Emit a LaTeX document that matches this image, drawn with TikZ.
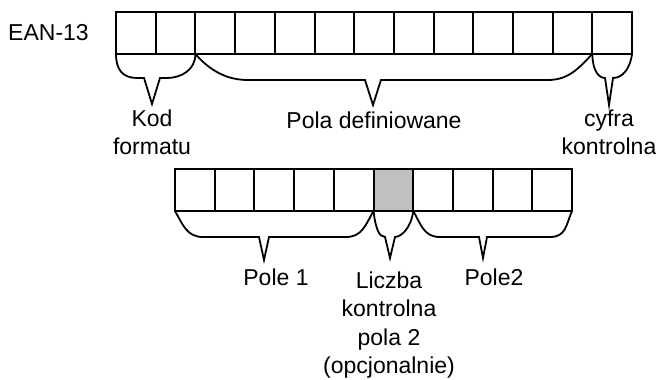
\documentclass[tikz,border=0pt]{standalone}
\usepackage{fontspec}
\setmainfont{Liberation Sans}
\begin{document}
\begin{tikzpicture}[x=1pt,y=-1pt,
  cell/.style={draw,line width=2pt,minimum width=39.7pt,minimum height=42pt,inner sep=0pt,outer sep=0pt,anchor=north west},
  markcell/.style={cell,fill=markgray},
  bracepath/.style={draw,line width=1.8pt,line join=miter},
  lbl/.style={font=\fontsize{23pt}{28.5pt}\selectfont,align=center,anchor=base,inner sep=0pt}]
\definecolor{markgray}{RGB}{192,192,192}
\useasboundingbox (0,0) rectangle (656,380);
% top row
\foreach \i in {1,...,13}{
  \node[cell] (t\i) at ({116+(\i-1)*39.7},12) {};
}
% bottom row
\foreach \i in {1,...,10}{
  \ifnum\i=6
    \node[markcell] (b\i) at ({175+(\i-1)*39.7},169) {};
  \else
    \node[cell] (b\i) at ({175+(\i-1)*39.7},169) {};
  \fi
}
% labels (base anchor = baseline of the last line)
\node[lbl] (ean) at (48.5,40) {EAN-13};
\node[lbl] (kod) at (152,154.5) {Kod\\formatu};
\node[lbl] (pola) at (374,128) {Pola definiowane};
\node[lbl] (cyfra) at (609,154.5) {cyfra\\kontrolna};
\node[lbl] (pole1) at (276,285) {Pole 1};
\node[lbl] (liczba) at (389,373.5) {Liczba\\kontrolna\\pola 2\\(opcjonalnie)};
\node[lbl] (pole2) at (494,285) {Pole2};
% braces top
\path[bracepath] (t1.south west) .. controls +(0,16) and +(-14,0) .. (137,78)
  -- (144,78) -- (152,104) -- (160,78) -- (167,78)
  .. controls +(14,0) and +(0,16) .. (t2.south east);
\path[bracepath] (t2.south east) .. controls +(14,16) and +(-22,0) .. (248,80)
  -- (365,80) -- (373,105) -- (381,80) -- (548,80)
  .. controls +(22,0) and +(-12,12) .. (t12.south east);
\path[bracepath] (t12.south east) .. controls +(0,17) and +(-6,0) .. (605,78)
  -- (609,105) -- (613,78)
  .. controls +(10,0) and +(-2,14) .. (t13.south east);
% braces bottom
\path[bracepath] (b1.south west) .. controls +(8,14) and +(-16,0) .. (203,237)
  -- (259,237) -- (264,260) -- (269,237) -- (346,237)
  .. controls +(16,0) and +(-8,14) .. (b5.south east);
\path[bracepath] (b5.south east) .. controls +(2,17) and +(-6,0) .. (385,237)
  -- (390,258) -- (395,237)
  .. controls +(6,0) and +(-2,17) .. (b6.south east);
\path[bracepath] (b6.south east) .. controls +(8,14) and +(-16,0) .. (440,237)
  -- (479,237) -- (483,258) -- (487,237) -- (550,237)
  .. controls +(16,0) and +(-6,14) .. (b10.south east);
\end{tikzpicture}
\end{document}
